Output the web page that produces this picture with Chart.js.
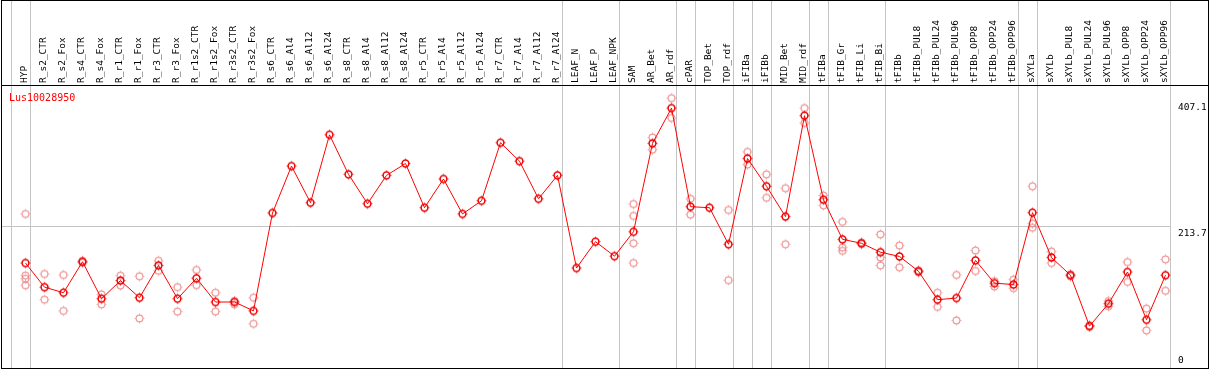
<!DOCTYPE html>
<html>
<head>
<meta charset="utf-8">
<script src="https://cdn.jsdelivr.net/npm/chart.js@4.4.1/dist/chart.umd.min.js"></script>
<style>
  html, body { margin: 0; padding: 0; background: #fff; }
  #wrap { width: 1209px; height: 370px; position: relative; }
</style>
</head>
<body>
<div id="wrap"><canvas id="chart"></canvas></div>
<script>
const geneName = 'Lus10028950';

const categories = [
  'HYP', 'R_s2_CTR', 'R_s2_Fox', 'R_s4_CTR', 'R_s4_Fox', 'R_r1_CTR', 'R_r1_Fox', 'R_r3_CTR', 'R_r3_Fox',
  'R_r1s2_CTR', 'R_r1s2_Fox', 'R_r3s2_CTR', 'R_r3s2_Fox', 'R_s6_CTR', 'R_s6_Al4', 'R_s6_Al12', 'R_s6_Al24',
  'R_s8_CTR', 'R_s8_Al4', 'R_s8_Al12', 'R_s8_Al24', 'R_r5_CTR', 'R_r5_Al4', 'R_r5_Al12', 'R_r5_Al24',
  'R_r7_CTR', 'R_r7_Al4', 'R_r7_Al12', 'R_r7_Al24', 'LEAF_N', 'LEAF_P', 'LEAF_NPK', 'SAM', 'AR_Bet', 'AR_rdf',
  'cPAR', 'TOP_Bet', 'TOP_rdf', 'iFIBa', 'iFIBb', 'MID_Bet', 'MID_rdf', 'tFIBa', 'tFIB_Gr', 'tFIB_Li', 'tFIB_Bi',
  'tFIBb', 'tFIBb_PUL8', 'tFIBb_PUL24', 'tFIBb_PUL96', 'tFIBb_OPP8', 'tFIBb_OPP24', 'tFIBb_OPP96',
  'sXYLa', 'sXYLb', 'sXYLb_PUL8', 'sXYLb_PUL24', 'sXYLb_PUL96', 'sXYLb_OPP8', 'sXYLb_OPP24', 'sXYLb_OPP96'
];

// mean expression per sample
const means = [
  157.3, 120.1, 111.5, 159.3, 102.3, 130.3, 103.8, 153.7, 102.3, 133.8, 97.2, 97.2, 83.5,
  234.6, 306.9, 250.4, 355.2, 294.2, 248.9, 292.6, 310.9, 242.7, 287.0, 233.1, 253.4,
  343.0, 314.5, 256.5, 292.6, 149.6, 190.3, 167.9, 205.6, 342.0, 396.4,
  244.3, 242.7, 186.3, 318.6, 275.8, 229.0, 384.7, 255.0, 193.9, 187.8, 174.0,
  167.5, 144.6, 100.8, 103.3, 161.4, 126.2, 124.2,
  235.1, 165.9, 138.5, 60.0, 94.7, 143.5, 69.8, 138.5
];

// replicates (null = not shown)
const rep1 = [
  233, 140.5, 138.9, 160.8, 108.9, 137.9, 136.9, 160.8, 120.1, 146.6, 111.5, 98.7, 103.8,
  null, null, null, null, null, null, null, null, null, null, null, null,
  null, null, null, null, null, null, null, 248.4, 351.1, 411.7,
  256.5, null, 239.2, 328.8, 294.2, 272.8, 396.4, 261.6, 220.9, 189.0, 201.5,
  184.3, 146.0, 111.5, 138.9, 176.6, 129.3, 131.8,
  275.8, 175.1, 140.0, 61.0, 98.7, 158.8, 87.0, 162.9
];
const rep2 = [
  138, 100.8, 83.5, 157.8, 93.6, 122.6, 71.8, 145.5, 82.4, 123.2, 82.4, 93.6, 63.6,
  null, null, null, null, null, null, null, null, null, null, null, null,
  null, null, null, null, null, null, null, 230.1, 332.3, 381.2,
  232.1, null, 130.8, 309.3, 258.0, 186.3, 373.5, 246.3, 181.2, 186.6, 165.9,
  150.7, 143.0, 89.6, 68.7, 145.0, 121.1, 118.6,
  218.3, 157.3, 137.0, 59.0, 90.6, 128.2, 53.4, 114.5
];
const rep3 = [
  133, null, null, null, null, null, null, null, null, null, null, null, null,
  null, null, null, null, null, null, null, null, null, null, null, null,
  null, null, null, null, null, null, null, 187.8, null, null,
  null, null, null, null, null, null, null, null, 176.1, null, 153.7,
  null, null, null, null, null, null, null,
  211.8, null, null, null, null, null, null, null
];
const rep4 = [
  123, null, null, null, null, null, null, null, null, null, null, null, null,
  null, null, null, null, null, null, null, null, null, null, null, null,
  null, null, null, null, null, null, null, 157.3, null, null,
  null, null, null, null, null, null, null, null, null, null, null,
  null, null, null, null, null, null, null,
  null, null, null, null, null, null, null, null
];

const yTicks = [0, 213.7, 407.1];
const yMax = 430.5;
// sample indices after which a group separator is drawn
const separators = [-1, 0, 28, 31, 34, 35, 37, 38, 39, 41, 42, 45, 52, 53, 60];

const monoFont = '"DejaVu Sans Mono", monospace';

const makeMarker = (color, lw) => {
    const c = document.createElement('canvas');
    c.width = 13;
    c.height = 13;
    const g = c.getContext('2d');
    g.strokeStyle = color;
    g.fillStyle = color;
    g.lineWidth = lw;
    g.beginPath();
    g.arc(6.5, 6.5, 3.4, 0, Math.PI * 2);
    g.stroke();
    // tiny nubs like the original bitmap markers
    g.fillRect(6, 1.6, 1, 1);
    g.fillRect(6, 10.4, 1, 1);
    g.fillRect(1.6, 6, 1, 1);
    g.fillRect(10.4, 6, 1, 1);
    return c;
};

const meanMarker = makeMarker('#ee0000', 1.5);
const repMarker = makeMarker('rgba(232, 120, 120, 0.75)', 1.2);

const repPoints = [];
[rep1, rep2, rep3, rep4].forEach(rep => {
    rep.forEach((v, i) => {
        if (v !== null) repPoints.push({ x: categories[i], y: v });
    });
});

const framePlugin = {
    id: 'frame',
    beforeDatasetsDraw(chart) {
        const { ctx, scales: { x, y } } = chart;
        ctx.save();
        ctx.strokeStyle = '#c4c4c4';
        ctx.lineWidth = 1;
        let lastX = 0;
        separators.forEach(i => {
            const px = Math.floor(x.getPixelForValue(i) + 4.5) + 0.5;
            lastX = px;
            ctx.beginPath();
            ctx.moveTo(px, 0);
            ctx.lineTo(px, 368);
            ctx.stroke();
        });
        const gy = Math.round(y.getPixelForValue(213.7)) - 0.5;
        ctx.beginPath();
        ctx.moveTo(1, gy);
        ctx.lineTo(lastX, gy);
        ctx.stroke();
        ctx.restore();
    },
    afterDraw(chart) {
        const { ctx, scales: { y } } = chart;
        ctx.save();
        ctx.strokeStyle = '#000';
        ctx.lineWidth = 1;
        ctx.strokeRect(1.5, 0.5, 1207, 368);
        ctx.beginPath();
        ctx.moveTo(1, 85.5);
        ctx.lineTo(1209, 85.5);
        ctx.stroke();

        ctx.font = '9.5px ' + monoFont;
        ctx.fillStyle = '#000';
        ctx.textAlign = 'left';
        ctx.textBaseline = 'alphabetic';
        yTicks.forEach(v => {
            const py = y.getPixelForValue(v);
            if (v === 0) {
                ctx.fillText(String(v), 1178, py - 2);
            } else {
                ctx.fillText(v.toFixed(1), 1178, py + 9);
            }
        });

        ctx.font = '10px ' + monoFont;
        ctx.fillStyle = '#ff0000';
        ctx.fillText(geneName, 9, 101);
        ctx.restore();
    }
};

new Chart(document.getElementById('chart'), {
    type: 'line',
    data: {
        labels: categories,
        datasets: [
            {
                label: geneName,
                data: means,
                borderColor: '#ff0000',
                borderWidth: 1,
                pointStyle: meanMarker,
                pointRadius: 4,
                tension: 0,
                clip: false,
                order: 0
            },
            {
                label: 'replicates',
                data: repPoints,
                showLine: false,
                pointStyle: repMarker,
                pointRadius: 4,
                clip: false,
                order: 1
            }
        ]
    },
    options: {
        responsive: true,
        maintainAspectRatio: false,
        animation: false,
        layout: { padding: { left: 25.5, right: 0, top: 0, bottom: 2 } },
        scales: {
            x: {
                type: 'category',
                position: 'top',
                offset: false,
                grid: { display: false, drawTicks: false },
                border: { display: false },
                ticks: {
                    autoSkip: false,
                    minRotation: 90,
                    maxRotation: 90,
                    padding: 3,
                    labelOffset: 10,
                    color: '#000',
                    font: { family: monoFont, size: 9.5 }
                },
                afterFit(scale) { scale.height = 86; }
            },
            y: {
                position: 'right',
                min: 0,
                max: yMax,
                grid: { display: false, drawTicks: false },
                border: { display: false },
                ticks: { display: false },
                afterBuildTicks(scale) { scale.ticks = yTicks.map(v => ({ value: v })); },
                afterFit(scale) { scale.width = 43.5; }
            }
        },
        plugins: {
            legend: { display: false },
            tooltip: { enabled: false }
        }
    },
    plugins: [framePlugin]
});
</script>
</body>
</html>
